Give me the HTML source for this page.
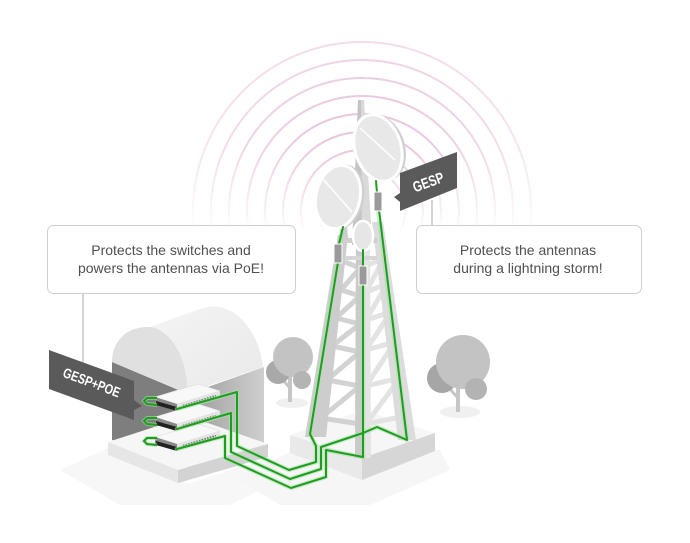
<!DOCTYPE html>
<html><head><meta charset="utf-8"><style>
html,body{margin:0;padding:0;background:#fff;}
svg{display:block;}
.t{font-family:"Liberation Sans",sans-serif;font-size:14px;fill:#505050;}
.tag{font-family:"Liberation Sans Narrow","Liberation Sans",sans-serif;font-weight:bold;fill:#fff;}
</style></head><body>
<svg width="690" height="543" viewBox="0 0 690 543" xmlns="http://www.w3.org/2000/svg">
<defs>
<linearGradient id="fade" gradientUnits="userSpaceOnUse" x1="0" y1="40" x2="0" y2="236">
<stop offset="0" stop-color="#fff" stop-opacity="1"/>
<stop offset="0.55" stop-color="#fff" stop-opacity="0.75"/>
<stop offset="1" stop-color="#fff" stop-opacity="0"/>
</linearGradient>
<mask id="m1" maskUnits="userSpaceOnUse" x="0" y="0" width="690" height="543">
<rect x="0" y="0" width="690" height="240" fill="url(#fade)"/>
</mask>
<linearGradient id="wallR" x1="0" y1="0" x2="1" y2="0">
<stop offset="0" stop-color="#9c9c9c"/><stop offset="1" stop-color="#cfcfcf"/>
</linearGradient>
<linearGradient id="roof" x1="0" y1="0" x2="1" y2="1">
<stop offset="0" stop-color="#f4f4f4"/><stop offset="1" stop-color="#e9e9e9"/>
</linearGradient>
</defs>

<!-- radio arcs -->
<g mask="url(#m1)" fill="none" stroke="#d99cc6" stroke-width="2">
<circle cx="362" cy="211" r="169" stroke-opacity="0.35"/>
<circle cx="362" cy="211" r="151" stroke-opacity="0.45"/>
<circle cx="362" cy="211" r="133" stroke-opacity="0.55"/>
<circle cx="362" cy="211" r="115" stroke-opacity="0.62"/>
<circle cx="362" cy="211" r="97" stroke-opacity="0.7"/>
<circle cx="362" cy="211" r="79" stroke-opacity="0.75"/>
<circle cx="362" cy="211" r="61" stroke-opacity="0.8"/>
<circle cx="362" cy="211" r="43" stroke-opacity="0.8"/>
</g>

<!-- callouts -->
<line x1="83" y1="293" x2="83" y2="363" stroke="#a8a8a8" stroke-width="1"/>
<line x1="432" y1="200" x2="432" y2="225" stroke="#a8a8a8" stroke-width="1"/>
<rect x="47.5" y="225.5" width="248" height="68" rx="6" fill="#fff" stroke="#cfcfcf"/>
<rect x="416.5" y="225.5" width="225" height="68" rx="6" fill="#fff" stroke="#cfcfcf"/>
<text class="t" x="171" y="255" text-anchor="middle">Protects the switches and</text>
<text class="t" x="171" y="273" text-anchor="middle">powers the antennas via PoE!</text>
<text class="t" x="528" y="255" text-anchor="middle">Protects the antennas</text>
<text class="t" x="528" y="273" text-anchor="middle">during a lightning storm!</text>

<!-- floor shadows -->
<polygon points="60,470 108,448 188,484 268,458 300,470 230,505 120,505" fill="#f7f7f7"/>
<polygon points="235,478 290,452 440,450 450,470 370,505 280,505" fill="#f6f6f6"/>

<!-- trees -->
<ellipse cx="292" cy="403" rx="16" ry="5" fill="#f0f0f0"/>
<line x1="290" y1="372" x2="290" y2="402" stroke="#c6c6c6" stroke-width="4"/>
<line x1="290" y1="388" x2="281" y2="378" stroke="#c6c6c6" stroke-width="3"/>
<circle cx="278" cy="372" r="12" fill="#a9a9a9"/>
<circle cx="293" cy="357" r="20" fill="#c3c3c3"/>
<circle cx="302" cy="380" r="9" fill="#b4b4b4"/>

<ellipse cx="460" cy="412" rx="20" ry="6" fill="#f0f0f0"/>
<line x1="458" y1="380" x2="458" y2="412" stroke="#c6c6c6" stroke-width="4"/>
<line x1="458" y1="398" x2="447" y2="386" stroke="#c6c6c6" stroke-width="3"/>
<circle cx="442" cy="378" r="15" fill="#a6a6a6"/>
<circle cx="463" cy="362" r="27" fill="#c3c3c3"/>
<circle cx="476" cy="389" r="11" fill="#b3b3b3"/>

<!-- building walls -->
<polygon points="112,362 188,394 188,455 112,440" fill="#7e7e7e"/>
<polygon points="188,394 264,367 264,447 188,472" fill="url(#wallR)"/>
<!-- roof cylinder -->
<path d="M150,327 L203,308 C230,300 258,325 263,367 L187,393 C186,360 172,333 150,327 Z" fill="url(#roof)"/>
<path d="M112,362 C112,340 128,326 150,327 C172,330 188,360 187,393 Z" fill="#e0e0e0"/>

<!-- building slab -->
<polygon points="108,442 188,416 268,444 178,470" fill="#f6f6f6"/>
<polygon points="108,442 178,470 178,483 108,455" fill="#e6e6e6"/>
<polygon points="178,470 268,444 268,457 178,483" fill="#d3d3d3"/>

<!-- switches -->
<g id="sw">
<polygon points="155,397 198,384 220,391 177,404" fill="#f8f8f8" stroke="#dcdcdc" stroke-width="0.6"/>
<polygon points="177,404 220,391 220,398 177,411" fill="#e4e4e4"/>
<line x1="183" y1="406" x2="216" y2="396" stroke="#666" stroke-width="2.4" stroke-dasharray="1.6 1.2"/>
<polygon points="155,397 177,404 177,411 155,404" fill="#8a8a8a"/>
<polygon points="156,401 177,407 177,411 156,405" fill="#222"/>
<path d="M157,398 L147,398 L144,401 L147,404 L157,405" fill="none" stroke="#9fe09f" stroke-width="4" stroke-opacity="0.6"/>
<path d="M157,398 L147,398 L144,401 L147,404 L157,405" fill="none" stroke="#1f9d1f" stroke-width="2"/>
</g>
<use href="#sw" transform="translate(0,20)"/>
<use href="#sw" transform="translate(0,40)"/>

<!-- tower slab -->
<polygon points="290,435 362,410 435,433 362,458" fill="#f6f6f6"/>
<polygon points="290,435 362,458 362,480 290,453" fill="#e9e9e9"/>
<polygon points="362,458 435,433 435,451 362,480" fill="#d6d6d6"/>

<!-- tower spike -->
<polygon points="358,100 364,100 372,245 352,245" fill="#c4c4c4"/>
<polygon points="361,100 364,100 372,245 362,245" fill="#dadada"/>

<!-- tower braces left panel -->
<g stroke="#d2d2d2" stroke-width="5" fill="none" stroke-linejoin="round">
<polyline points="345,262 360,268 341,290 360,296 336,318 360,324 332,346 360,352 327,380 360,386 321,418 360,424"/>
</g>
<g stroke="#e3e3e3" stroke-width="5" fill="none" stroke-linejoin="round">
<polyline points="366,266 384,258 366,292 387,284 366,320 391,312 366,350 395,342 366,386 400,378 366,424 405,416"/>
</g>
<!-- legs -->
<polygon points="338,235 348,235 326,437 305,437" fill="#cdcdcd"/>
<polygon points="356,245 370,245 371,458 355,458" fill="#e4e4e4"/>
<polygon points="356,245 362,245 362,458 355,458" fill="#cacaca"/>
<polygon points="372,222 383,222 416,440 398,440" fill="#dcdcdc"/>
<!-- brackets -->
<rect x="343" y="238" width="34" height="5" fill="#cfcfcf"/>
<rect x="345" y="256" width="32" height="4" fill="#d6d6d6"/>
<polygon points="341,225 347,225 348,240 339,240" fill="#cdcdcd"/>

<!-- antennas -->
<ellipse cx="341" cy="197" rx="23" ry="33" transform="rotate(12 341 197)" fill="#d0d0d0"/>
<ellipse cx="338" cy="197" rx="22" ry="32" transform="rotate(12 338 197)" fill="#e8e8e8" stroke="#fff" stroke-width="3"/>
<line x1="322" y1="178" x2="352" y2="212" stroke="#fff" stroke-width="1.5"/>
<ellipse cx="381" cy="148" rx="24" ry="34" transform="rotate(-17 381 148)" fill="#d0d0d0"/>
<ellipse cx="378" cy="148" rx="23" ry="34" transform="rotate(-17 378 148)" fill="#e8e8e8" stroke="#fff" stroke-width="3"/>
<line x1="360" y1="128" x2="395" y2="160" stroke="#fff" stroke-width="1.5"/>
<ellipse cx="363" cy="236" rx="10" ry="15" fill="#e6e6e6" stroke="#fff" stroke-width="2.5"/>

<!-- green cables -->
<g fill="none" stroke-linejoin="round" stroke-linecap="round">
<g stroke="#a6e0a6" stroke-width="4.5" stroke-opacity="0.55">
<polyline points="177,409 237,392 237,446 289,470 316,462 316,446 310,434 342,232"/>
<polyline points="177,429 231,413 231,452 290,479 321,469 321,447 363,433"/>
<polyline points="177,449 225,436 225,458 291,488 326,477 326,450 363,457"/>
<line x1="363" y1="285" x2="363" y2="457"/>
<polyline points="378,210 407,440 377,427 363,433"/>
</g>
<g stroke="#1f9d1f" stroke-width="2">
<polyline points="177,409 237,392 237,446 289,470 316,462 316,446 310,434 338,262"/>
<polyline points="177,429 231,413 231,452 290,479 321,469 321,447 363,433"/>
<polyline points="177,449 225,436 225,458 291,488 326,477 326,450 363,457"/>
<line x1="363" y1="285" x2="363" y2="457"/>
<line x1="363" y1="250" x2="363" y2="266"/>
<polyline points="379,210 407,440 377,427 363,433"/>
<line x1="376" y1="181" x2="377" y2="193"/>
<line x1="343" y1="227" x2="339" y2="244"/>
</g>
</g>
<!-- surge protectors -->
<rect x="374" y="192" width="8" height="19" fill="#9a9a9a" stroke="#fff" stroke-width="1"/>
<rect x="334" y="244" width="8" height="19" fill="#9a9a9a" stroke="#fff" stroke-width="1"/>
<rect x="359" y="266" width="8" height="19" fill="#9a9a9a" stroke="#fff" stroke-width="1"/>

<!-- GESP tag -->
<polygon points="400,173 457,152 457,188 400,211 400,202 394,197 400,193" fill="#5a5a5a"/>
<text class="tag" x="0" y="0" font-size="15" text-anchor="middle" textLength="32" lengthAdjust="spacingAndGlyphs" transform="translate(430,187) rotate(-20)">GESP</text>

<!-- GESP+POE tag -->
<polygon points="49,350 134,381 134,400 142,406 134,410 134,420 49,389" fill="#5a5a5a"/>
<text class="tag" x="0" y="0" font-size="14" text-anchor="middle" textLength="60" lengthAdjust="spacingAndGlyphs" transform="translate(90,387) rotate(20.5)">GESP+POE</text>
</svg>
</body></html>
